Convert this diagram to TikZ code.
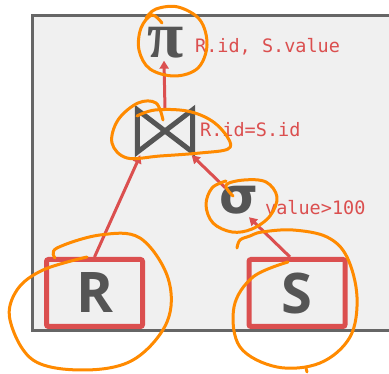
\documentclass[tikz,border=0pt]{standalone}
\usepackage{fontspec}
\setmainfont{Open Sans}
\newfontfamily\monofont{DejaVu Sans Mono}
\newfontfamily\opsymfont{Liberation Serif}
\newfontfamily\sigmafont{DejaVu Sans}
\usetikzlibrary{arrows.meta,calc}
\definecolor{relred}{HTML}{DB4F4F}
\definecolor{opgray}{HTML}{555555}
\definecolor{framegray}{HTML}{666666}
\definecolor{panel}{HTML}{F0F0F0}
\definecolor{marker}{HTML}{FF8A00}
\tikzset{
  oplabel/.style={text=relred, font=\monofont\fontsize{18.5}{20}\selectfont, anchor=west, inner sep=0pt},
  relbox/.style={draw=relred, line width=5pt, rounded corners=2pt, minimum width=96pt, minimum height=67pt,
    text=opgray, font=\bfseries\fontsize{56}{60}\selectfont, inner sep=0pt},
  flow/.style={draw=relred, line width=3pt, -{Triangle[length=8pt,width=9pt]}},
  ink/.style={draw=marker, line width=3pt, line cap=round, line join=round}
}
\begin{document}
\begin{tikzpicture}[x=1pt,y=-1pt]
\useasboundingbox (0,0) rectangle (389,374);
% panel
\fill[panel] (32,16) rectangle (389,331);
\draw[framegray, line width=3pt] (389,16) -- (32,16) -- (32,331) -- (389,331);

% operators
\node[text=opgray, font=\opsymfont\bfseries\fontsize{66}{70}\selectfont, inner sep=0pt] (pi) at (166,43) {π};
\node[oplabel] (pilab) at (195,47) {R.id, S.value};

\node[minimum width=55pt, minimum height=42pt, inner sep=0pt] (join) at (165,131) {};
\draw[opgray, line width=5pt, line join=miter]
  (join.north west) -- (join.south east) -- (join.north east) -- (join.south west) -- cycle;
\node[oplabel] (joinlab) at (200,130) {R.id=S.id};

\node[text=opgray, font=\sigmafont\bfseries\fontsize{50}{52}\selectfont, inner sep=0pt] (sigma) at (239,200) {σ};
\node[oplabel] (sigmalab) at (265,208) {value>100};

% base relations
\node[relbox] (R) at (94.5,293) {R};
\node[relbox] (S) at (297,293) {S};

% data flow
\draw[flow] (R.north) -- ($(join.south west)+(3,3)$);
\draw[flow] ($(S.north)+(-7,0)$) -- ($(sigma.south)+(10,3)$);
\draw[flow] ($(sigma.north west)+(6,2)$) -- ($(join.south east)+(-1,3)$);
\draw[flow] (join.north) -- ($(pi.south)+(-2,2)$);

% hand-drawn annotations
\draw[ink] plot[smooth, tension=0.6] coordinates {(162,23) (152,15) (141,28) (139,50) (150,69) (175,76) (198,68) (207,45) (200,20) (178,7) (156,9) (146,18)};
\draw[ink] plot[smooth, tension=0.6] coordinates {(163,120) (156,103) (138,103) (118,120) (112,143) (127,158) (160,156) (200,153) (228,149) (228,138) (212,121) (187,111) (155,110) (137,116)};
\draw[ink] plot[smooth, tension=0.6] coordinates {(233,196) (226,185) (244,180) (266,182) (277,197) (270,216) (252,229) (232,232) (213,223) (206,205) (212,188) (226,181)};
\draw[ink] plot[smooth, tension=0.6] coordinates {(55,258) (57,248) (100,235) (140,238) (168,278) (167,322) (133,360) (83,370) (33,360) (10,320) (17,290) (43,270) (87,257)};
\draw[ink] plot[smooth, tension=0.6] coordinates {(288,262) (253,277) (234,307) (240,347) (277,367) (320,363) (350,337) (357,297) (347,257) (327,237) (293,230) (262,232) (250,236) (240,240) (237,248)};
\draw[ink] (306,368) -- (307,372);
\end{tikzpicture}
\end{document}
